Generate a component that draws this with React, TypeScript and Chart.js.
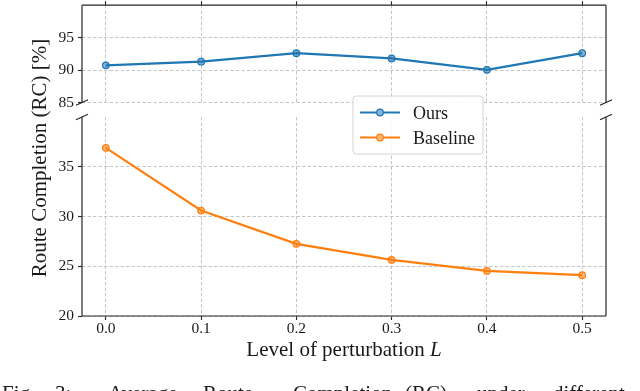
import React, { useEffect, useRef } from 'react';
import { Chart, registerables } from 'chart.js';

Chart.register(...registerables);

// ---------------- data ----------------
const levels = [0.0, 0.1, 0.2, 0.3, 0.4, 0.5];
const oursRC = [90.73, 91.29, 92.6, 91.79, 90.03, 92.6];
const baselineRC = [36.9, 30.6, 27.25, 25.64, 24.53, 24.1];
const xTickValues = [0.0, 0.1, 0.2, 0.3, 0.4, 0.5];
const topTickValues = [85, 90, 95];
const bottomTickValues = [20, 25, 30, 35];
const seriesNames = ['Ours', 'Baseline'];
const yTitle = 'Route Completion (RC) [%]';
const xTitleText = 'Level of perturbation ';
const xTitleVar = 'L';
const captionWords = ['Fig.', '3:', 'Average', 'Route', 'Completion', '(RC)', 'under', 'different'];

// ---------------- styles ----------------
const FONT = "'Liberation Serif', 'DejaVu Serif', serif";
const BLUE = '#1f77b4';
const ORANGE = '#ff7f0e';
const GRID = '#c6c6c6';
const SPINE = '#262626';
const TEXT = '#1a1a1a';
const W = 640;
const H = 391;
const X_MIN = -0.025;
const X_MAX = 0.525;
const TICK_FONT = 15.5;

function dataset(label: string, ys: number[], color: string, fill: string) {
  return {
    label,
    data: levels.map((x, i) => ({ x, y: ys[i] })),
    borderColor: color,
    backgroundColor: color,
    borderWidth: 2.2,
    tension: 0,
    pointRadius: 3.3,
    pointBorderWidth: 1.2,
    pointBorderColor: color,
    pointBackgroundColor: fill,
    clip: false as any,
  };
}

function yScale(min: number, max: number, tickVals: number[]) {
  return {
    type: 'linear' as const,
    position: 'left' as const,
    min,
    max,
    afterBuildTicks: (s: any) => {
      s.ticks = tickVals.map((v) => ({ value: v }));
    },
    afterFit: (s: any) => {
      s.width = 82;
      s.paddingTop = 0;
      s.paddingBottom = 0;
    },
    ticks: {
      autoSkip: false,
      color: TEXT,
      padding: 4,
      font: { family: FONT, size: TICK_FONT },
      callback: (v: any) => String(v),
    },
    grid: {
      color: GRID,
      lineWidth: 1,
      drawTicks: true,
      tickLength: 4,
      tickColor: SPINE,
      tickWidth: 1.1,
      tickBorderDash: [],
    },
    border: { display: false, dash: [3.5, 2] },
  };
}

function line(ctx: CanvasRenderingContext2D, x1: number, y1: number, x2: number, y2: number) {
  ctx.beginPath();
  ctx.moveTo(x1, y1);
  ctx.lineTo(x2, y2);
  ctx.stroke();
}

function breakMark(ctx: CanvasRenderingContext2D, x: number, y: number) {
  ctx.save();
  ctx.strokeStyle = SPINE;
  ctx.lineWidth = 1.2;
  line(ctx, x - 6, y + 2.7, x + 6, y - 2.7);
  ctx.restore();
}

const topFramePlugin = {
  id: 'topFrame',
  afterDraw(chart: any) {
    const { ctx, chartArea: a } = chart;
    ctx.save();
    ctx.strokeStyle = SPINE;
    ctx.lineWidth = 1.2;
    line(ctx, a.left, a.top, a.right, a.top);
    line(ctx, a.left, a.top, a.left, a.bottom);
    line(ctx, a.right, a.top, a.right, a.bottom);
    ctx.restore();
    breakMark(ctx, a.left, a.bottom);
    breakMark(ctx, a.right, a.bottom);
  },
};

function markerLine(ctx: CanvasRenderingContext2D, x1: number, x2: number, y: number, color: string, fill: string) {
  ctx.save();
  ctx.strokeStyle = color;
  ctx.lineWidth = 2.2;
  line(ctx, x1, y, x2, y);
  ctx.beginPath();
  ctx.arc((x1 + x2) / 2, y, 3.3, 0, Math.PI * 2);
  ctx.fillStyle = '#fff';
  ctx.fill();
  ctx.fillStyle = fill;
  ctx.fill();
  ctx.lineWidth = 1.2;
  ctx.stroke();
  ctx.restore();
}

const bottomFramePlugin = {
  id: 'bottomFrame',
  afterDraw(chart: any) {
    const { ctx, chartArea: a } = chart;
    ctx.save();
    ctx.strokeStyle = SPINE;
    ctx.lineWidth = 1.2;
    line(ctx, a.left, a.top, a.left, a.bottom);
    line(ctx, a.right, a.top, a.right, a.bottom);
    line(ctx, a.left, a.bottom, a.right, a.bottom);
    ctx.restore();
    breakMark(ctx, a.left, a.top);
    breakMark(ctx, a.right, a.top);

    // legend
    ctx.save();
    const lx = 353, ly = 96, lw = 130, lh = 58, r = 3;
    ctx.beginPath();
    ctx.moveTo(lx + r, ly);
    ctx.lineTo(lx + lw - r, ly);
    ctx.arcTo(lx + lw, ly, lx + lw, ly + r, r);
    ctx.lineTo(lx + lw, ly + lh - r);
    ctx.arcTo(lx + lw, ly + lh, lx + lw - r, ly + lh, r);
    ctx.lineTo(lx + r, ly + lh);
    ctx.arcTo(lx, ly + lh, lx, ly + lh - r, r);
    ctx.lineTo(lx, ly + r);
    ctx.arcTo(lx, ly, lx + r, ly, r);
    ctx.closePath();
    ctx.fillStyle = 'rgba(255,255,255,0.85)';
    ctx.fill();
    ctx.strokeStyle = '#d4d4d4';
    ctx.lineWidth = 1;
    ctx.stroke();
    markerLine(ctx, 360, 400, 112.5, BLUE, 'rgba(31,119,180,0.55)');
    markerLine(ctx, 360, 400, 137.5, ORANGE, 'rgba(255,127,14,0.55)');
    ctx.fillStyle = TEXT;
    ctx.font = `18px ${FONT}`;
    ctx.textAlign = 'left';
    ctx.textBaseline = 'alphabetic';
    ctx.fillText(seriesNames[0], 413, 118.5);
    ctx.fillText(seriesNames[1], 413, 144);
    ctx.restore();

    // y title
    ctx.save();
    ctx.fillStyle = TEXT;
    ctx.font = `21px ${FONT}`;
    ctx.translate(40, 158);
    ctx.rotate(-Math.PI / 2);
    ctx.textAlign = 'center';
    ctx.textBaseline = 'middle';
    ctx.fillText(yTitle, 0, 0);
    ctx.restore();

    // x title
    ctx.save();
    ctx.fillStyle = TEXT;
    ctx.textBaseline = 'alphabetic';
    ctx.textAlign = 'left';
    ctx.font = `21px ${FONT}`;
    const w1 = ctx.measureText(xTitleText).width;
    ctx.font = `italic 21px ${FONT}`;
    const w2 = ctx.measureText(xTitleVar).width;
    const start = 344 - (w1 + w2) / 2;
    ctx.font = `21px ${FONT}`;
    ctx.fillText(xTitleText, start, 356);
    ctx.font = `italic 21px ${FONT}`;
    ctx.fillText(xTitleVar, start + w1, 356);
    ctx.restore();

    // caption (cut off at the bottom edge)
    ctx.save();
    ctx.fillStyle = TEXT;
    ctx.font = `21px ${FONT}`;
    ctx.textBaseline = 'alphabetic';
    ctx.textAlign = 'left';
    const cx = [2, 55, 108, 203, 293, 405, 477, 553];
    captionWords.forEach((wd, i) => ctx.fillText(wd, cx[i], 399.5));
    ctx.restore();
  },
};

export default function App() {
  const topRef = useRef<HTMLCanvasElement>(null);
  const botRef = useRef<HTMLCanvasElement>(null);

  useEffect(() => {
    if (!topRef.current || !botRef.current) return;

    const xTicksHook = (s: any) => {
      s.ticks = xTickValues.map((v) => ({ value: v }));
    };

    const top = new Chart(topRef.current, {
      type: 'line',
      data: { datasets: [dataset(seriesNames[0], oursRC, BLUE, 'rgba(31,119,180,0.55)') as any] },
      options: {
        responsive: false,
        animation: false,
        layout: { padding: { left: 0, right: 34, top: 3.5, bottom: H - 102.5 } },
        plugins: { legend: { display: false }, tooltip: { enabled: false } },
        scales: {
          x: {
            type: 'linear',
            position: 'top',
            min: X_MIN,
            max: X_MAX,
            afterBuildTicks: xTicksHook,
            afterFit: (s: any) => {
              s.height = 0;
              s.paddingLeft = 0;
              s.paddingRight = 0;
            },
            ticks: { display: false },
            grid: {
              color: GRID,
              lineWidth: 1,
              drawTicks: true,
              tickLength: 4,
              tickColor: SPINE,
              tickWidth: 1.1,
              tickBorderDash: [],
            },
            border: { display: false, dash: [3.5, 2] },
          } as any,
          y: yScale(85, 100, topTickValues) as any,
        },
      },
      plugins: [topFramePlugin as any],
    });

    const bottom = new Chart(botRef.current, {
      type: 'line',
      data: { datasets: [dataset(seriesNames[1], baselineRC, ORANGE, 'rgba(255,127,14,0.55)') as any] },
      options: {
        responsive: false,
        animation: false,
        layout: { padding: { left: 0, right: 34, top: 117, bottom: 0 } },
        plugins: { legend: { display: false }, tooltip: { enabled: false } },
        scales: {
          x: {
            type: 'linear',
            position: 'bottom',
            min: X_MIN,
            max: X_MAX,
            afterBuildTicks: xTicksHook,
            afterFit: (s: any) => {
              s.height = 75;
              s.paddingLeft = 0;
              s.paddingRight = 0;
            },
            ticks: {
              autoSkip: false,
              maxRotation: 0,
              color: TEXT,
              padding: 0,
              font: { family: FONT, size: TICK_FONT },
              callback: (v: any) => Number(v).toFixed(1),
            },
            grid: {
              color: GRID,
              lineWidth: 1,
              drawTicks: true,
              tickLength: 4,
              tickColor: SPINE,
              tickWidth: 1.1,
              tickBorderDash: [],
            },
            border: { display: false, dash: [3.5, 2] },
          } as any,
          y: yScale(20, 40, bottomTickValues) as any,
        },
      },
      plugins: [bottomFramePlugin as any],
    });

    return () => {
      top.destroy();
      bottom.destroy();
    };
  }, []);

  return (
    <div
      style={{
        position: 'fixed',
        left: 0,
        top: 0,
        width: W,
        height: H,
        background: '#fff',
        overflow: 'hidden',
      }}
    >
      <canvas ref={topRef} width={W} height={H} style={{ position: 'absolute', left: 0, top: 0 }} />
      <canvas ref={botRef} width={W} height={H} style={{ position: 'absolute', left: 0, top: 0 }} />
    </div>
  );
}
